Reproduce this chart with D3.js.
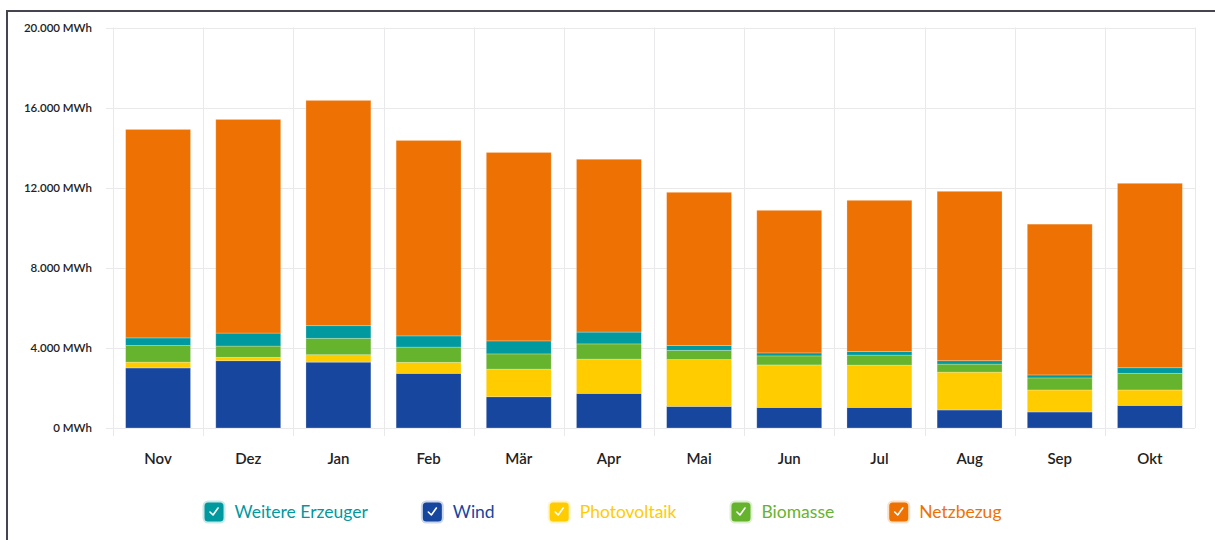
<!DOCTYPE html>
<html>
<head>
<meta charset="utf-8">
<script src="https://cdn.jsdelivr.net/npm/d3@7"></script>
<style>
  html, body { margin: 0; padding: 0; background: #fff; }
  svg { display: block; font-family: Lato, "Noto Sans", sans-serif; }
</style>
</head>
<body>
<script>
const months = ["Nov", "Dez", "Jan", "Feb", "Mär", "Apr", "Mai", "Jun", "Jul", "Aug", "Sep", "Okt"];
const wind        = [3000, 3360, 3290, 2730, 1560, 1730, 1080, 1030, 1030, 900, 800, 1130];
const photovoltaik = [290, 170, 370, 550, 1380, 1710, 2340, 2120, 2110, 1890, 1100, 770];
const biomasse    = [830, 560, 820, 760, 760, 760, 460, 450, 500, 400, 600, 830];
const weitere     = [380, 650, 630, 560, 650, 590, 240, 150, 180, 170, 150, 280];
const netzbezug   = [10410, 10670, 11250, 9760, 9410, 8630, 7650, 7120, 7550, 8460, 7530, 9210];
const yTicks = [0, 4000, 8000, 12000, 16000, 20000];

// stack order bottom -> top
const series = [
  { key: "Wind", values: wind, color: "#17469e" },
  { key: "Photovoltaik", values: photovoltaik, color: "#ffcc00" },
  { key: "Biomasse", values: biomasse, color: "#66b32e" },
  { key: "Weitere Erzeuger", values: weitere, color: "#00999f" },
  { key: "Netzbezug", values: netzbezug, color: "#ee7203" }
];
const legendOrder = ["Weitere Erzeuger", "Wind", "Photovoltaik", "Biomasse", "Netzbezug"];

const width = 1215, height = 540;
const plot = { left: 113, right: 1195, top: 27.5, bottom: 428 };

const rows = months.map((m, i) => {
  const r = { month: m };
  series.forEach(s => r[s.key] = s.values[i]);
  return r;
});
const stacked = d3.stack().keys(series.map(s => s.key))(rows);
const colorOf = Object.fromEntries(series.map(s => [s.key, s.color]));

const svg = d3.select("body").append("svg")
  .attr("width", width)
  .attr("height", height);

// outer frame
svg.append("rect")
  .attr("x", 7).attr("y", 11)
  .attr("width", width + 20).attr("height", height + 20)
  .attr("fill", "none")
  .attr("stroke", "#45454f")
  .attr("stroke-width", 2);

const x = d3.scaleBand()
  .domain(months)
  .range([plot.left, plot.right])
  .paddingInner(0.28)
  .paddingOuter(0.14);

const y = d3.scaleLinear()
  .domain([0, 20000])
  .range([plot.bottom, plot.top]);

const step = (plot.right - plot.left) / months.length;

// grid
const grid = svg.append("g").attr("stroke", "#e9e9ec").attr("stroke-width", 1);
grid.selectAll("line.h")
  .data(yTicks)
  .join("line")
    .attr("class", "h")
    .attr("x1", plot.left - 7).attr("x2", plot.right)
    .attr("y1", d => Math.round(y(d)) + 0.5)
    .attr("y2", d => Math.round(y(d)) + 0.5);
grid.selectAll("line.v")
  .data(d3.range(months.length + 1))
  .join("line")
    .attr("class", "v")
    .attr("x1", i => Math.round(plot.left + i * step) + 0.5)
    .attr("x2", i => Math.round(plot.left + i * step) + 0.5)
    .attr("y1", plot.top)
    .attr("y2", i => i === months.length ? plot.bottom : plot.bottom + 8);

// y labels
svg.append("g")
  .selectAll("text")
  .data(yTicks)
  .join("text")
    .attr("x", 92)
    .attr("y", d => y(d))
    .attr("dy", "0.35em")
    .attr("text-anchor", "end")
    .attr("font-size", 11.5)
    .attr("font-weight", 600)
    .attr("fill", "#222")
    .text(d => d3.format(",")(d).replace(/,/g, ".") + " MWh");

// bars
svg.append("g")
  .selectAll("g")
  .data(stacked)
  .join("g")
    .attr("fill", d => colorOf[d.key])
  .selectAll("rect")
  .data(d => d)
  .join("rect")
    .attr("x", d => x(d.data.month))
    .attr("width", x.bandwidth())
    .attr("y", d => y(d[1]))
    .attr("height", d => y(d[0]) - y(d[1]))
    .attr("stroke", "rgba(255,255,255,0.3)")
    .attr("stroke-width", 0.8);

// month labels
svg.append("g")
  .selectAll("text")
  .data(months)
  .join("text")
    .attr("x", d => x(d) + x.bandwidth() / 2)
    .attr("y", 459)
    .attr("dy", "0.35em")
    .attr("text-anchor", "middle")
    .attr("font-size", 15)
    .attr("font-weight", 600)
    .attr("fill", "#222")
    .text(d => d);

// legend
const legend = svg.append("g");
const items = legend.selectAll("g")
  .data(legendOrder)
  .join("g");
items.append("rect")
  .attr("x", 0).attr("y", -9.5)
  .attr("width", 19).attr("height", 19)
  .attr("rx", 3.5)
  .attr("fill", d => colorOf[d])
  .attr("stroke", d => colorOf[d])
  .attr("stroke-opacity", 0.22)
  .attr("stroke-width", 4);
items.append("path")
  .attr("d", "M5.5,9.5 L8.5,12.5 L13.5,5.5")
  .attr("transform", "translate(0,-9.5)")
  .attr("fill", "none")
  .attr("stroke", "#fff")
  .attr("stroke-width", 1.6)
  .attr("stroke-linecap", "round")
  .attr("stroke-linejoin", "round");
items.append("text")
  .attr("x", 30)
  .attr("dy", "0.35em")
  .attr("font-size", 17.5)
  .attr("fill", d => colorOf[d])
  .text(d => d);

const gap = 55;
let lx = 0;
const widths = [];
items.each(function() {
  const w = 30 + d3.select(this).select("text").node().getComputedTextLength();
  widths.push(w);
});
const total = d3.sum(widths) + gap * (widths.length - 1);
lx = 603 - total / 2;
items.attr("transform", (d, i) => {
  const t = `translate(${lx},512)`;
  lx += widths[i] + gap;
  return t;
});
</script>
</body>
</html>
